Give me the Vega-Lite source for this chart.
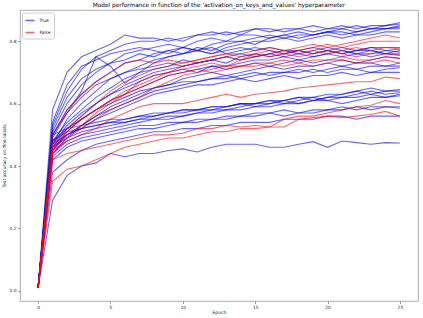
{
  "$schema": "https://vega.github.io/schema/vega-lite/v6.json",
  "autosize": "none",
  "width": 398,
  "height": 291,
  "padding": {"left": 20, "top": 10, "right": 5, "bottom": 17},
  "background": "white",
  "title": {"text": "Model performance in function of the 'activation_on_keys_and_values' hyperparameter", "fontSize": 5.8, "font": "DejaVu Sans", "fontWeight": "normal", "color": "#000", "offset": 2.5},
  "config": {
    "view": {"stroke": "#999", "strokeWidth": 0.8},
    "axis": {"domain": false, "grid": false, "labelFont": "DejaVu Sans", "titleFont": "DejaVu Sans", "labelFontSize": 4.4, "titleFontSize": 4.6, "titleFontWeight": "normal", "labelColor": "#222", "titleColor": "#222", "tickColor": "#444", "tickWidth": 0.5, "tickSize": 2.5, "labelPadding": 1.5}
  },
  "data": {"values": [
    {"run":"B1","act":"True","00":0.01,"01":0.58,"02":0.70,"03":0.75,"04":0.77,"05":0.79,"06":0.82,"07":0.81,"08":0.81,"09":0.80,"10":0.81,"11":0.82,"12":0.83,"13":0.82,"14":0.83,"15":0.84,"16":0.83,"17":0.84,"18":0.84,"19":0.83,"20":0.84,"21":0.84,"22":0.85,"23":0.84,"24":0.85,"25":0.86},
    {"run":"B2","act":"True","00":0.01,"01":0.53,"02":0.64,"03":0.71,"04":0.75,"05":0.77,"06":0.79,"07":0.80,"08":0.80,"09":0.81,"10":0.80,"11":0.82,"12":0.82,"13":0.83,"14":0.82,"15":0.84,"16":0.84,"17":0.83,"18":0.84,"19":0.85,"20":0.84,"21":0.85,"22":0.84,"23":0.85,"24":0.85,"25":0.855},
    {"run":"B3","act":"True","00":0.01,"01":0.51,"02":0.60,"03":0.66,"04":0.70,"05":0.73,"06":0.76,"07":0.77,"08":0.78,"09":0.79,"10":0.78,"11":0.80,"12":0.81,"13":0.80,"14":0.82,"15":0.82,"16":0.81,"17":0.82,"18":0.83,"19":0.82,"20":0.83,"21":0.84,"22":0.83,"23":0.84,"24":0.84,"25":0.85},
    {"run":"B4","act":"True","00":0.01,"01":0.49,"02":0.57,"03":0.64,"04":0.75,"05":0.72,"06":0.665,"07":0.70,"08":0.73,"09":0.75,"10":0.76,"11":0.78,"12":0.77,"13":0.79,"14":0.80,"15":0.79,"16":0.81,"17":0.82,"18":0.81,"19":0.82,"20":0.83,"21":0.82,"22":0.83,"23":0.84,"24":0.84,"25":0.845},
    {"run":"B5","act":"True","00":0.01,"01":0.50,"02":0.58,"03":0.63,"04":0.67,"05":0.70,"06":0.73,"07":0.74,"08":0.76,"09":0.77,"10":0.78,"11":0.77,"12":0.79,"13":0.80,"14":0.80,"15":0.81,"16":0.82,"17":0.81,"18":0.82,"19":0.82,"20":0.83,"21":0.83,"22":0.82,"23":0.83,"24":0.84,"25":0.84},
    {"run":"B6","act":"True","00":0.01,"01":0.47,"02":0.55,"03":0.60,"04":0.64,"05":0.68,"06":0.70,"07":0.72,"08":0.74,"09":0.75,"10":0.76,"11":0.77,"12":0.76,"13":0.78,"14":0.79,"15":0.80,"16":0.80,"17":0.81,"18":0.80,"19":0.81,"20":0.82,"21":0.81,"22":0.82,"23":0.82,"24":0.83,"25":0.83},
    {"run":"B7","act":"True","00":0.01,"01":0.48,"02":0.54,"03":0.58,"04":0.62,"05":0.65,"06":0.68,"07":0.70,"08":0.71,"09":0.72,"10":0.74,"11":0.73,"12":0.74,"13":0.75,"14":0.76,"15":0.75,"16":0.76,"17":0.77,"18":0.77,"19":0.76,"20":0.77,"21":0.78,"22":0.77,"23":0.78,"24":0.78,"25":0.78},
    {"run":"B8","act":"True","00":0.01,"01":0.46,"02":0.52,"03":0.56,"04":0.60,"05":0.63,"06":0.66,"07":0.68,"08":0.70,"09":0.71,"10":0.72,"11":0.73,"12":0.74,"13":0.73,"14":0.75,"15":0.76,"16":0.75,"17":0.76,"18":0.77,"19":0.76,"20":0.77,"21":0.76,"22":0.77,"23":0.78,"24":0.77,"25":0.775},
    {"run":"B9","act":"True","00":0.01,"01":0.52,"02":0.62,"03":0.68,"04":0.71,"05":0.73,"06":0.74,"07":0.76,"08":0.75,"09":0.77,"10":0.76,"11":0.77,"12":0.78,"13":0.76,"14":0.77,"15":0.78,"16":0.77,"17":0.76,"18":0.77,"19":0.78,"20":0.77,"21":0.76,"22":0.77,"23":0.77,"24":0.76,"25":0.77},
    {"run":"B10","act":"True","00":0.01,"01":0.45,"02":0.51,"03":0.55,"04":0.58,"05":0.61,"06":0.63,"07":0.65,"08":0.67,"09":0.69,"10":0.70,"11":0.71,"12":0.72,"13":0.72,"14":0.73,"15":0.74,"16":0.74,"17":0.75,"18":0.74,"19":0.75,"20":0.76,"21":0.75,"22":0.76,"23":0.76,"24":0.77,"25":0.765},
    {"run":"B11","act":"True","00":0.01,"01":0.50,"02":0.57,"03":0.62,"04":0.66,"05":0.68,"06":0.70,"07":0.71,"08":0.72,"09":0.73,"10":0.72,"11":0.73,"12":0.74,"13":0.75,"14":0.74,"15":0.75,"16":0.76,"17":0.75,"18":0.76,"19":0.75,"20":0.76,"21":0.77,"22":0.76,"23":0.75,"24":0.76,"25":0.76},
    {"run":"B12","act":"True","00":0.01,"01":0.47,"02":0.53,"03":0.57,"04":0.60,"05":0.63,"06":0.65,"07":0.67,"08":0.69,"09":0.70,"10":0.71,"11":0.70,"12":0.72,"13":0.71,"14":0.72,"15":0.73,"16":0.72,"17":0.73,"18":0.74,"19":0.73,"20":0.74,"21":0.74,"22":0.73,"23":0.74,"24":0.75,"25":0.745},
    {"run":"B13","act":"True","00":0.01,"01":0.44,"02":0.49,"03":0.53,"04":0.56,"05":0.59,"06":0.61,"07":0.63,"08":0.65,"09":0.66,"10":0.68,"11":0.69,"12":0.70,"13":0.69,"14":0.70,"15":0.71,"16":0.72,"17":0.71,"18":0.72,"19":0.72,"20":0.73,"21":0.72,"22":0.73,"23":0.73,"24":0.72,"25":0.73},
    {"run":"B14","act":"True","00":0.01,"01":0.46,"02":0.50,"03":0.53,"04":0.56,"05":0.58,"06":0.60,"07":0.62,"08":0.64,"09":0.65,"10":0.66,"11":0.67,"12":0.68,"13":0.69,"14":0.68,"15":0.69,"16":0.70,"17":0.70,"18":0.71,"19":0.70,"20":0.71,"21":0.72,"22":0.71,"23":0.72,"24":0.72,"25":0.72},
    {"run":"B15","act":"True","00":0.01,"01":0.48,"02":0.52,"03":0.55,"04":0.58,"05":0.60,"06":0.62,"07":0.64,"08":0.65,"09":0.66,"10":0.67,"11":0.67,"12":0.68,"13":0.68,"14":0.69,"15":0.70,"16":0.69,"17":0.70,"18":0.70,"19":0.71,"20":0.70,"21":0.71,"22":0.71,"23":0.70,"24":0.71,"25":0.715},
    {"run":"B16","act":"True","00":0.01,"01":0.45,"02":0.50,"03":0.52,"04":0.55,"05":0.57,"06":0.59,"07":0.61,"08":0.63,"09":0.64,"10":0.65,"11":0.66,"12":0.66,"13":0.67,"14":0.68,"15":0.67,"16":0.68,"17":0.69,"18":0.68,"19":0.69,"20":0.69,"21":0.70,"22":0.69,"23":0.70,"24":0.70,"25":0.70},
    {"run":"B17","act":"True","00":0.01,"01":0.47,"02":0.50,"03":0.52,"04":0.53,"05":0.54,"06":0.55,"07":0.56,"08":0.56,"09":0.57,"10":0.58,"11":0.58,"12":0.59,"13":0.59,"14":0.60,"15":0.60,"16":0.61,"17":0.61,"18":0.62,"19":0.62,"20":0.63,"21":0.63,"22":0.64,"23":0.65,"24":0.64,"25":0.645},
    {"run":"B18","act":"True","00":0.01,"01":0.48,"02":0.51,"03":0.52,"04":0.53,"05":0.54,"06":0.54,"07":0.55,"08":0.56,"09":0.57,"10":0.57,"11":0.58,"12":0.58,"13":0.59,"14":0.60,"15":0.59,"16":0.60,"17":0.61,"18":0.62,"19":0.61,"20":0.62,"21":0.63,"22":0.64,"23":0.63,"24":0.64,"25":0.64},
    {"run":"B19","act":"True","00":0.01,"01":0.46,"02":0.49,"03":0.51,"04":0.52,"05":0.53,"06":0.54,"07":0.55,"08":0.55,"09":0.56,"10":0.56,"11":0.57,"12":0.58,"13":0.58,"14":0.59,"15":0.60,"16":0.60,"17":0.61,"18":0.60,"19":0.61,"20":0.62,"21":0.62,"22":0.63,"23":0.64,"24":0.63,"25":0.635},
    {"run":"B20","act":"True","00":0.01,"01":0.50,"02":0.52,"03":0.53,"04":0.54,"05":0.55,"06":0.55,"07":0.56,"08":0.57,"09":0.57,"10":0.58,"11":0.58,"12":0.59,"13":0.59,"14":0.60,"15":0.60,"16":0.61,"17":0.60,"18":0.61,"19":0.62,"20":0.61,"21":0.62,"22":0.62,"23":0.63,"24":0.62,"25":0.63},
    {"run":"B21","act":"True","00":0.01,"01":0.44,"02":0.48,"03":0.50,"04":0.51,"05":0.52,"06":0.53,"07":0.54,"08":0.55,"09":0.55,"10":0.56,"11":0.57,"12":0.57,"13":0.58,"14":0.58,"15":0.59,"16":0.59,"17":0.60,"18":0.60,"19":0.61,"20":0.61,"21":0.60,"22":0.61,"23":0.62,"24":0.62,"25":0.625},
    {"run":"B22","act":"True","00":0.01,"01":0.43,"02":0.47,"03":0.49,"04":0.50,"05":0.51,"06":0.52,"07":0.53,"08":0.53,"09":0.54,"10":0.54,"11":0.55,"12":0.55,"13":0.56,"14":0.56,"15":0.57,"16":0.57,"17":0.58,"18":0.57,"19":0.58,"20":0.58,"21":0.59,"22":0.58,"23":0.59,"24":0.59,"25":0.59},
    {"run":"B23","act":"True","00":0.01,"01":0.42,"02":0.46,"03":0.48,"04":0.49,"05":0.50,"06":0.51,"07":0.52,"08":0.52,"09":0.53,"10":0.54,"11":0.54,"12":0.55,"13":0.55,"14":0.56,"15":0.56,"16":0.57,"17":0.56,"18":0.57,"19":0.57,"20":0.58,"21":0.58,"22":0.59,"23":0.58,"24":0.59,"25":0.585},
    {"run":"B24","act":"True","00":0.01,"01":0.38,"02":0.42,"03":0.45,"04":0.47,"05":0.48,"06":0.49,"07":0.50,"08":0.51,"09":0.51,"10":0.52,"11":0.52,"12":0.53,"13":0.53,"14":0.54,"15":0.54,"16":0.54,"17":0.55,"18":0.55,"19":0.55,"20":0.56,"21":0.56,"22":0.55,"23":0.56,"24":0.56,"25":0.56},
    {"run":"B25","act":"True","00":0.01,"01":0.29,"02":0.37,"03":0.40,"04":0.41,"05":0.44,"06":0.43,"07":0.44,"08":0.44,"09":0.45,"10":0.455,"11":0.445,"12":0.46,"13":0.47,"14":0.47,"15":0.47,"16":0.46,"17":0.46,"18":0.47,"19":0.478,"20":0.46,"21":0.48,"22":0.475,"23":0.47,"24":0.475,"25":0.474},
    {"run":"B26","act":"True","00":0.01,"01":0.54,"02":0.66,"03":0.72,"04":0.74,"05":0.76,"06":0.77,"07":0.78,"08":0.77,"09":0.76,"10":0.78,"11":0.77,"12":0.76,"13":0.77,"14":0.78,"15":0.77,"16":0.78,"17":0.77,"18":0.76,"19":0.77,"20":0.78,"21":0.77,"22":0.76,"23":0.77,"24":0.76,"25":0.755},
    {"run":"R1","act":"False","00":0.01,"01":0.47,"02":0.52,"03":0.56,"04":0.60,"05":0.64,"06":0.67,"07":0.69,"08":0.71,"09":0.72,"10":0.73,"11":0.74,"12":0.75,"13":0.76,"14":0.76,"15":0.77,"16":0.78,"17":0.77,"18":0.78,"19":0.79,"20":0.78,"21":0.79,"22":0.80,"23":0.81,"24":0.82,"25":0.81},
    {"run":"R2","act":"False","00":0.01,"01":0.46,"02":0.51,"03":0.55,"04":0.58,"05":0.61,"06":0.64,"07":0.66,"08":0.68,"09":0.70,"10":0.72,"11":0.73,"12":0.74,"13":0.75,"14":0.74,"15":0.76,"16":0.77,"17":0.76,"18":0.77,"19":0.78,"20":0.79,"21":0.78,"22":0.79,"23":0.80,"24":0.80,"25":0.80},
    {"run":"R3","act":"False","00":0.01,"01":0.45,"02":0.50,"03":0.53,"04":0.57,"05":0.60,"06":0.63,"07":0.67,"08":0.69,"09":0.70,"10":0.71,"11":0.72,"12":0.73,"13":0.72,"14":0.74,"15":0.75,"16":0.76,"17":0.77,"18":0.76,"19":0.77,"20":0.76,"21":0.77,"22":0.78,"23":0.77,"24":0.78,"25":0.775},
    {"run":"R4","act":"False","00":0.01,"01":0.50,"02":0.58,"03":0.63,"04":0.67,"05":0.70,"06":0.73,"07":0.74,"08":0.73,"09":0.74,"10":0.73,"11":0.74,"12":0.75,"13":0.76,"14":0.75,"15":0.76,"16":0.75,"17":0.76,"18":0.75,"19":0.76,"20":0.77,"21":0.76,"22":0.75,"23":0.76,"24":0.76,"25":0.755},
    {"run":"R5","act":"False","00":0.01,"01":0.44,"02":0.49,"03":0.52,"04":0.55,"05":0.58,"06":0.60,"07":0.62,"08":0.65,"09":0.67,"10":0.69,"11":0.70,"12":0.71,"13":0.72,"14":0.72,"15":0.73,"16":0.73,"17":0.74,"18":0.73,"19":0.74,"20":0.74,"21":0.75,"22":0.74,"23":0.74,"24":0.75,"25":0.745},
    {"run":"R6","act":"False","00":0.01,"01":0.47,"02":0.52,"03":0.55,"04":0.58,"05":0.61,"06":0.63,"07":0.65,"08":0.67,"09":0.69,"10":0.70,"11":0.71,"12":0.70,"13":0.71,"14":0.72,"15":0.72,"16":0.73,"17":0.72,"18":0.73,"19":0.72,"20":0.73,"21":0.74,"22":0.73,"23":0.73,"24":0.74,"25":0.73},
    {"run":"R7","act":"False","00":0.01,"01":0.45,"02":0.48,"03":0.50,"04":0.52,"05":0.55,"06":0.57,"07":0.59,"08":0.60,"09":0.60,"10":0.60,"11":0.61,"12":0.62,"13":0.63,"14":0.62,"15":0.63,"16":0.635,"17":0.64,"18":0.65,"19":0.655,"20":0.66,"21":0.665,"22":0.67,"23":0.67,"24":0.685,"25":0.68},
    {"run":"R8","act":"False","00":0.01,"01":0.42,"02":0.44,"03":0.45,"04":0.46,"05":0.47,"06":0.48,"07":0.49,"08":0.50,"09":0.50,"10":0.505,"11":0.52,"12":0.52,"13":0.53,"14":0.525,"15":0.53,"16":0.525,"17":0.55,"18":0.56,"19":0.56,"20":0.57,"21":0.58,"22":0.59,"23":0.595,"24":0.61,"25":0.60},
    {"run":"R9","act":"False","00":0.01,"01":0.35,"02":0.39,"03":0.40,"04":0.42,"05":0.44,"06":0.46,"07":0.47,"08":0.48,"09":0.49,"10":0.49,"11":0.50,"12":0.51,"13":0.51,"14":0.52,"15":0.52,"16":0.525,"17":0.525,"18":0.55,"19":0.555,"20":0.56,"21":0.555,"22":0.56,"23":0.565,"24":0.575,"25":0.56}
  ]},
  "transform": [
    {"fold": ["00","01","02","03","04","05","06","07","08","09","10","11","12","13","14","15","16","17","18","19","20","21","22","23","24","25"], "as": ["epoch", "acc"]}
  ],
  "mark": {"type": "line", "strokeWidth": 1.1, "opacity": 0.6, "clip": true},
  "encoding": {
    "x": {"field": "epoch", "type": "quantitative", "scale": {"domain": [-1.25, 26.25], "nice": false, "zero": false}, "axis": {"values": [0, 5, 10, 15, 20, 25], "title": "Epoch", "titlePadding": 1.5, "format": "d"}},
    "y": {"field": "acc", "type": "quantitative", "scale": {"domain": [-0.0325, 0.9], "nice": false, "zero": false}, "axis": {"values": [0, 0.2, 0.4, 0.6, 0.8], "format": ".1f", "title": "Test accuracy on fine labels", "titlePadding": 3}},
    "color": {"field": "act", "type": "nominal", "scale": {"domain": ["True", "False"], "range": ["#0000ff", "#ff0000"]},
      "legend": {"title": null, "orient": "none", "legendX": 2, "legendY": 2.5, "symbolType": "stroke", "symbolSize": 81, "symbolStrokeWidth": 1.5, "symbolOpacity": 0.6, "labelFontSize": 4.4, "labelFont": "DejaVu Sans", "labelColor": "#222", "labelOffset": 4, "rowPadding": 3, "padding": 2.5, "strokeColor": "#ccc", "fillColor": "white", "cornerRadius": 2}},
    "detail": {"field": "run", "type": "nominal"}
  }
}
